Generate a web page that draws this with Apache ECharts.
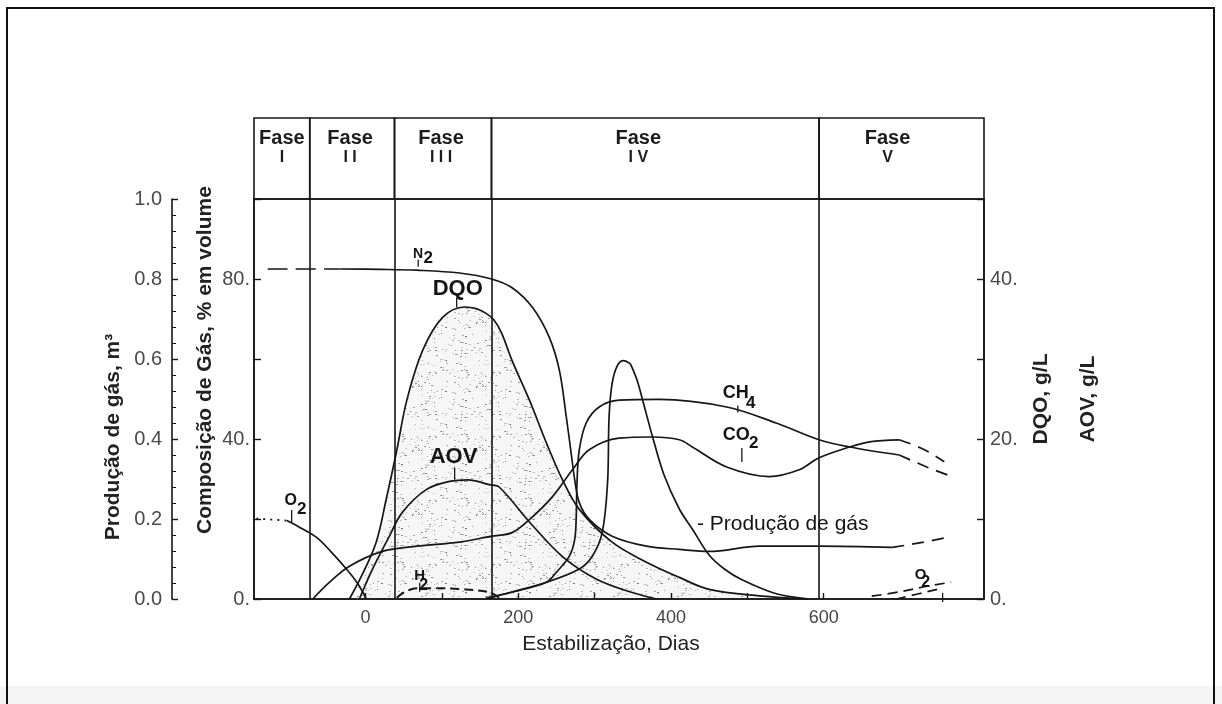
<!DOCTYPE html>
<html><head><meta charset="utf-8">
<script src="https://cdn.jsdelivr.net/npm/echarts@6/dist/echarts.min.js"></script>
<style>html,body{margin:0;padding:0;background:#fff}#c{width:1222px;height:704px}</style>
</head><body><div id="c"></div>
<script>
// ------------------------- data -------------------------
const xTickValues = [0, 100, 200, 300, 400, 500, 600];
const xLabelValues = [0, 200, 400, 600];
const pctLabelValues = [0, 40, 80];
const gLabelValues = [0, 20, 40];
const phaseNames = ['Fase\nI', 'Fase\nI I', 'Fase\nI I I', 'Fase\nI V', 'Fase\nV'];
const phaseBounds = [-146, -73, 38, 165, 594, 810];   // days

// gas composition, % volume
const n2Start = [[-128, 82.5], [-34, 82.5]];
const n2Main = [[-34, 82.5], [20, 82.4], [67, 82.2], [123, 81.5], [165, 80.0], [192, 77.8], [219, 72.8], [241, 65.3], [254, 57.1], [263, 45.5], [270, 35.5], [274, 29.8], [280, 24.1], [293, 19.9], [323, 15.7], [368, 13.2], [411, 12.4], [450, 11.9], [516, 13.2], [594, 13.2], [690, 12.9]];
const n2End = [[690, 12.9], [731, 14.2], [762, 15.4]];
const o2Start = [[-143, 20.1], [-103, 19.6]];
const o2Main = [[-103, 19.6], [-86, 17.9], [-64, 15.4], [-45, 11.8], [-25, 7.5], [-10, 3.8], [1, 0]];
const o2End = [[663, 0.7], [700, 1.8], [730, 3.0], [767, 4.2]];
const o2End2 = [[695, 0], [751, 2.5]];
const h2 = [[41, 0.3], [51, 1.7], [67, 2.7], [93, 2.7], [123, 2.5], [162, 1.7], [175, 0.3]];
const co2Main = [[-69, 0], [-47, 4.2], [-21, 8.2], [22, 11.9], [67, 13.2], [123, 14.2], [165, 15.7], [192, 16.6], [215, 19.9], [245, 25.6], [271, 32.3], [293, 37.3], [332, 40.2], [376, 40.5], [411, 39.8], [428, 38.0], [473, 33.0], [529, 30.6], [568, 32.3], [594, 35.3], [634, 38.0], [660, 39.3], [699, 39.8]];
const co2End = [[699, 39.8], [730, 37.5], [758, 34.3]];
const ch4Main = [[158, 0.3], [192, 1.7], [237, 4.2], [250, 6.7], [267, 10.7], [274, 14.9], [276, 20.6], [277, 29.1], [280, 37.3], [289, 44.0], [306, 48.0], [332, 49.7], [385, 49.9], [473, 48.0], [538, 44.0], [594, 39.8], [634, 38.0], [699, 36.0]];
const ch4End = [[699, 36.0], [735, 33.0], [768, 30.6]];
// gas production, m3
const gasProd = [[162, 0], [171, 0.007], [237, 0.042], [280, 0.075], [297, 0.107], [310, 0.166], [317, 0.291], [319, 0.455], [323, 0.539], [330, 0.584], [338, 0.596], [346, 0.589], [349, 0.579], [356, 0.545], [363, 0.497], [376, 0.405], [391, 0.31], [411, 0.225], [428, 0.175], [450, 0.11], [470, 0.075], [493, 0.048], [538, 0.013], [581, 0]];
// leachate, g/L
const dqo = [[-21, 0], [-4, 3.1], [14, 7.1], [27, 12.4], [41, 18.6], [54, 24.8], [75, 31.1], [101, 35.2], [130, 36.5], [145, 36.3], [158, 35.7], [168, 34.9], [178, 33.3], [192, 29.8], [215, 24.8], [237, 19.5], [258, 14.9], [280, 11.2], [323, 7.1], [368, 4.6], [411, 2.7], [450, 1.2], [516, 0.4], [581, 0]];
const aov = [[-8, 0], [9, 3.7], [31, 7.8], [48, 10.8], [80, 13.7], [110, 14.7], [134, 14.9], [162, 14.3], [175, 14.0], [215, 9.6], [258, 5.3], [302, 2.5], [346, 0.9], [381, 0]];

// curve labels (anchor in days / % volume)
const annotations = [
  {key: 'n2', main: 'N', sub: '2', day: 69, pct: 86.3},
  {key: 'dqo', main: 'DQO', sub: '', day: 88, pct: 77.4},
  {key: 'aov', main: 'AOV', sub: '', day: 84, pct: 35.6},
  {key: 'o2a', main: 'O', sub: '2', day: -98, pct: 24.5},
  {key: 'h2', main: 'H', sub: '2', day: 71, pct: 5.8},
  {key: 'ch4', main: 'CH', sub: '4', day: 468, pct: 51.6},
  {key: 'co2', main: 'CO', sub: '2', day: 468, pct: 41.0},
  {key: 'prod', main: '- Produção de gás', sub: '', day: 434, pct: 18.8},
  {key: 'o2b', main: 'O', sub: '2', day: 727, pct: 6.0}
];

// ------------------------- styles -------------------------
const FF = "'Liberation Sans', Arial, Helvetica, sans-serif";
const INK = '#161616';
const phaseLabelShift = [0, -2, -2, -17, -14];   // px, header text offset
const annoStyle = {
  n2:  {font: 'bold 14px', align: 'center', sub: [10, 5], subFont: 'bold 17px', ptr: [0, 6, 13]},
  dqo: {font: 'bold 22px', align: 'left', ptr: [24, 8, 18]},
  aov: {font: 'bold 22px', align: 'left', ptr: [25, 11, 23]},
  o2a: {font: 'bold 16px', align: 'center', sub: [11, 8], subFont: 'bold 17px', ptr: [1, 9, 21]},
  h2:  {font: 'bold 15px', align: 'center', sub: [4, 10], subFont: 'bold 16px', ptr: [0, 7, 16]},
  ch4: {font: 'bold 18px', align: 'left', sub: [28, 11], subFont: 'bold 17px', ptr: [15, 13, 20]},
  co2: {font: 'bold 18px', align: 'left', sub: [31, 8], subFont: 'bold 17px', ptr: [19, 13, 27]},
  prod:{font: '21px', align: 'left'},
  o2b: {font: 'bold 15px', align: 'center', sub: [5, 8], subFont: 'bold 16px', ptr: [22, 18, 27]}
};

function stipple() {
  const c = document.createElement('canvas');
  c.width = 64; c.height = 64;
  const g = c.getContext('2d');
  g.fillStyle = 'rgba(0,0,0,0.035)';
  g.fillRect(0, 0, 64, 64);
  let s = 12345;
  const rnd = () => { s = (s * 1103515245 + 12345) % 2147483648; return s / 2147483648; };
  for (let i = 0; i < 170; i++) {
    const x = Math.floor(rnd() * 64), y = Math.floor(rnd() * 64);
    g.fillStyle = 'rgba(70,70,70,' + (0.2 + rnd() * 0.4).toFixed(2) + ')';
    g.fillRect(x, y, 1 + Math.floor(rnd() * 2), 1);
  }
  return c;
}

const lineBase = (name, data, yIdx, type, width) => ({
  name, type: 'line', data, xAxisIndex: 1, yAxisIndex: yIdx,
  showSymbol: false, symbol: 'none', smooth: 0.35, silent: true,
  lineStyle: {color: INK, width: width || 1.7, type: type || 'solid'},
  z: 3
});

const chart = echarts.init(document.getElementById('c'));
const option = {
  animation: false,
  backgroundColor: '#fff',
  graphic: [
    {type: 'rect', shape: {x: 0, y: 686, width: 1222, height: 18}, style: {fill: '#f4f5f4'}, z: -10},
    {type: 'rect', shape: {x: 7, y: 8, width: 1207, height: 720}, style: {fill: 'none', stroke: '#111', lineWidth: 2}, z: 100}
  ],
  grid: [
    {left: 254, top: 118, width: 730, height: 81},
    {left: 254, top: 199, width: 730, height: 400, show: true, borderColor: INK, borderWidth: 1.6, backgroundColor: 'transparent'}
  ],
  xAxis: [
    {gridIndex: 0, type: 'value', min: phaseBounds[0], max: phaseBounds[phaseBounds.length - 1], show: false},
    {gridIndex: 1, type: 'value', min: phaseBounds[0], max: phaseBounds[phaseBounds.length - 1],
     axisLine: {onZero: false, lineStyle: {color: INK, width: 1.6}},
     axisTick: {inside: true, length: 6, customValues: xTickValues, lineStyle: {color: INK, width: 1.4}},
     axisLabel: {customValues: xLabelValues, color: '#444', fontFamily: FF, fontSize: 18, margin: 10},
     splitLine: {show: false},
     name: 'Estabilização, Dias', nameLocation: 'middle', nameGap: 35, nameMoveOverlap: false,
     nameTextStyle: {fontFamily: FF, fontSize: 21, color: '#222', padding: [0, 16, 0, 0]}}
  ],
  yAxis: [
    {gridIndex: 0, type: 'value', min: 0, max: 1, show: false},
    {gridIndex: 1, type: 'value', position: 'left', min: 0, max: 100, interval: 20,
     axisLine: {show: true, onZero: false, lineStyle: {color: INK, width: 1.6}},
     axisTick: {show: true, inside: true, length: 7, lineStyle: {color: INK, width: 1.4}},
     axisLabel: {formatter: v => pctLabelValues.includes(v) ? v + '.' : '', color: '#4a4a4a', fontFamily: FF, fontSize: 20, margin: 4},
     splitLine: {show: false},
     name: 'Composição de Gás, % em volume', nameLocation: 'middle', nameRotate: 90, nameGap: 38, nameMoveOverlap: false,
     nameTextStyle: {fontFamily: FF, fontSize: 21, fontWeight: 'bold', color: '#222', padding: [0, 0, 0, 78]}},
    {gridIndex: 1, type: 'value', position: 'left', offset: 82, min: 0, max: 1, interval: 0.2,
     axisLine: {show: true, onZero: false, lineStyle: {color: INK, width: 1.6}},
     axisTick: {show: true, inside: true, length: 6, lineStyle: {color: INK, width: 1.4}},
     minorTick: {show: true, splitNumber: 5, length: 4, lineStyle: {color: INK, width: 1}},
     axisLabel: {formatter: v => v.toFixed(1), color: '#4a4a4a', fontFamily: FF, fontSize: 20, margin: 10},
     splitLine: {show: false},
     name: 'Produção de gás, m³', nameLocation: 'middle', nameRotate: 90, nameGap: 48, nameMoveOverlap: false,
     nameTextStyle: {fontFamily: FF, fontSize: 21, fontWeight: 'bold', color: '#222', padding: [0, 76, 0, 0]}},
    {gridIndex: 1, type: 'value', position: 'right', min: 0, max: 50, interval: 10,
     axisLine: {show: true, onZero: false, lineStyle: {color: INK, width: 1.6}},
     axisTick: {show: true, inside: true, length: 7, lineStyle: {color: INK, width: 1.4}},
     axisLabel: {formatter: v => gLabelValues.includes(v) ? v + '.' : '', color: '#4a4a4a', fontFamily: FF, fontSize: 20, margin: 6},
     splitLine: {show: false},
     name: 'DQO, g/L\nAOV, g/L', nameLocation: 'middle', nameRotate: 90, nameGap: 34, nameMoveOverlap: false,
     nameTextStyle: {fontFamily: FF, fontSize: 21, fontWeight: 'bold', color: '#222', lineHeight: 47}}
  ],
  series: [
    {type: 'custom', xAxisIndex: 0, yAxisIndex: 0, silent: true, clip: false,
     data: phaseNames.map((n, i) => [phaseBounds[i], phaseBounds[i + 1]]),
     renderItem: (params, api) => {
       const a = api.coord([api.value(0), 1]);
       const b = api.coord([api.value(1), 0]);
       const parts = phaseNames[params.dataIndex].split('\n');
       const cx = (a[0] + b[0]) / 2 + phaseLabelShift[params.dataIndex];
       return {type: 'group', children: [
         {type: 'rect', shape: {x: a[0], y: a[1], width: b[0] - a[0], height: b[1] - a[1]}, style: {fill: 'none', stroke: INK, lineWidth: 1.6}},
         {type: 'text', style: {text: parts[0], x: cx, y: a[1] + 20, align: 'center', verticalAlign: 'middle', font: 'bold 20px ' + FF, fill: '#1c1c1c'}},
         {type: 'text', style: {text: parts[1], x: cx, y: a[1] + 40, align: 'center', verticalAlign: 'middle', font: 'bold 16px ' + FF, fill: '#1c1c1c'}}
       ]};
     }},
    Object.assign(lineBase('DQO', dqo, 3), {areaStyle: {color: {image: stipple(), repeat: 'repeat'}, opacity: 1}, z: 2}),
    lineBase('AOV', aov, 3),
    Object.assign(lineBase('CO2', co2Main, 1), {
      markLine: {silent: true, symbol: ['none', 'none'], label: {show: false},
        lineStyle: {color: INK, type: 'solid', width: 1.6},
        data: phaseBounds.slice(1, -1).map(v => ({xAxis: v}))}
    }),
    lineBase('CO2 fim', co2End, 1, [12, 8]),
    lineBase('CH4', ch4Main, 1),
    lineBase('CH4 fim', ch4End, 1, [12, 8]),
    lineBase('N2 início', n2Start, 1, [20, 8]),
    lineBase('N2', n2Main, 1),
    lineBase('N2 fim', n2End, 1, [12, 8]),
    lineBase('O2 início', o2Start, 1, [2, 5]),
    lineBase('O2', o2Main, 1),
    lineBase('O2 fim', o2End, 1, [10, 6]),
    lineBase('O2 fim 2', o2End2, 1, [10, 6]),
    lineBase('H2', h2, 1, [9, 5], 2),
    lineBase('Produção de gás', gasProd, 2),
    {type: 'custom', xAxisIndex: 1, yAxisIndex: 1, silent: true, clip: false, z: 5,
     data: annotations.map(a => [a.day, a.pct]),
     renderItem: (params, api) => {
       const a = annotations[params.dataIndex];
       const st = annoStyle[a.key];
       const p = api.coord([api.value(0), api.value(1)]);
       const ch = [{type: 'text', style: {text: a.main, x: p[0], y: p[1], align: st.align, verticalAlign: 'middle', font: st.font + ' ' + FF, fill: '#141414'}}];
       if (a.sub) ch.push({type: 'text', style: {text: a.sub, x: p[0] + st.sub[0], y: p[1] + st.sub[1], align: 'center', verticalAlign: 'middle', font: st.subFont + ' ' + FF, fill: '#141414'}});
       if (st.ptr) ch.push({type: 'line', shape: {x1: p[0] + st.ptr[0], y1: p[1] + st.ptr[1], x2: p[0] + st.ptr[0], y2: p[1] + st.ptr[2]}, style: {stroke: INK, lineWidth: 1.3}});
       return {type: 'group', children: ch};
     }}
  ]
};
chart.setOption(option);
</script>
</body></html>
